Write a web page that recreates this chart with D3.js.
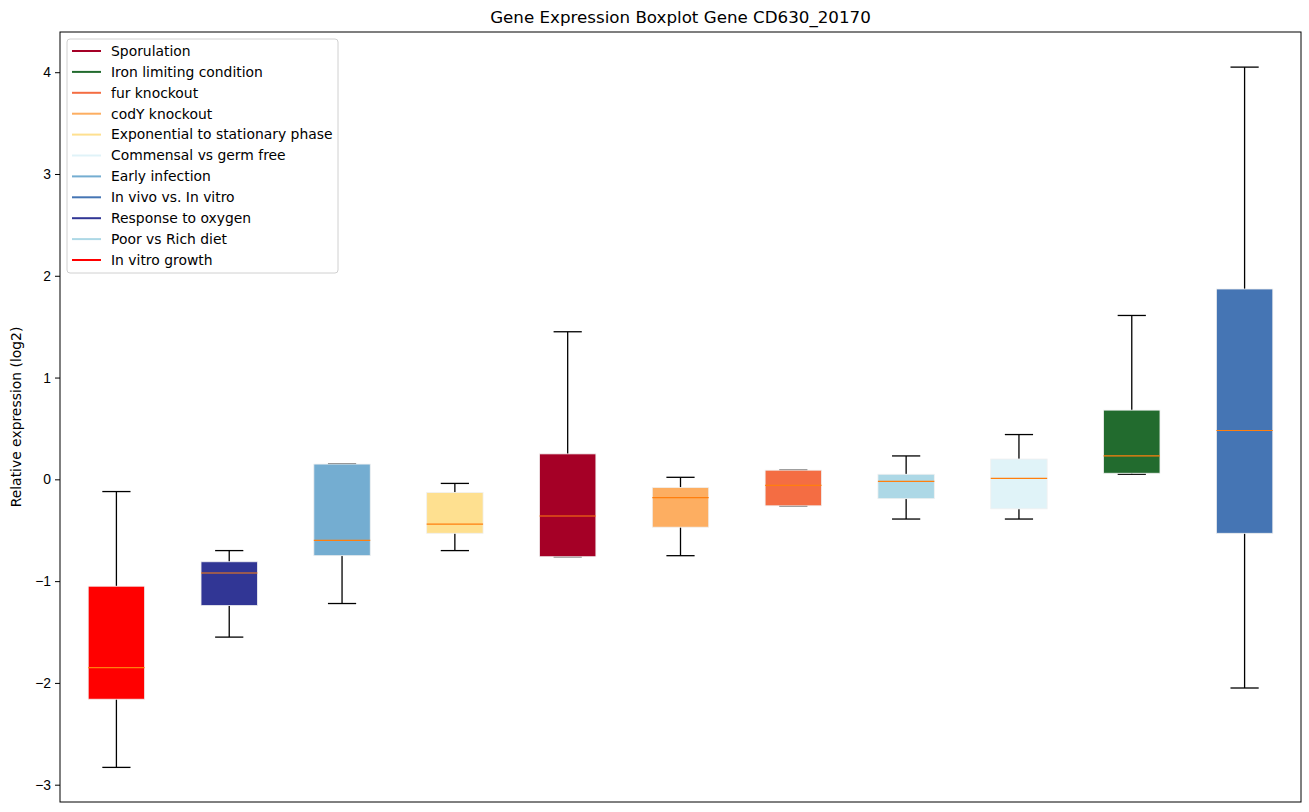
<!DOCTYPE html>
<html>
<head>
<meta charset="utf-8">
<style>
    body { margin: 0; background: #fff; }
    svg { font-family: 'DejaVu Sans', sans-serif; }
    .y .domain { display: none; }
    .y .tick text { font-size: 13.9px; fill: #000; }
    .y .tick line { stroke: #000; }
</style>
</head>
<body>
<svg width="1309" height="812"></svg>
<script src="https://d3js.org/d3.v7.min.js"></script>
<script>
    // boxes, left to right
    const groups = ["In vitro growth", "Response to oxygen", "Early infection", "Exponential to stationary phase",
        "Sporulation", "codY knockout", "fur knockout", "Poor vs Rich diet", "Commensal vs germ free",
        "Iron limiting condition", "In vivo vs. In vitro"]
    const whiskerLow = [-2.83, -1.55, -1.22, -0.70, -0.76, -0.75, -0.26, -0.39, -0.39, 0.05, -2.05]
    const q1 = [-2.16, -1.24, -0.75, -0.53, -0.76, -0.47, -0.26, -0.19, -0.29, 0.06, -0.53]
    const median = [-1.85, -0.92, -0.60, -0.44, -0.36, -0.18, -0.06, -0.02, 0.01, 0.23, 0.48]
    const q3 = [-1.05, -0.81, 0.15, -0.13, 0.25, -0.08, 0.09, 0.05, 0.20, 0.68, 1.87]
    const whiskerHigh = [-0.12, -0.70, 0.15, -0.04, 1.45, 0.02, 0.09, 0.23, 0.44, 1.61, 4.05]

    // legend order and colours
    const legendNames = ["Sporulation", "Iron limiting condition", "fur knockout", "codY knockout",
        "Exponential to stationary phase", "Commensal vs germ free", "Early infection",
        "In vivo vs. In vitro", "Response to oxygen", "Poor vs Rich diet", "In vitro growth"]
    const legendColors = ["#a50026", "#226b2e", "#f46d43", "#fdae61", "#fee090", "#e0f3f8",
        "#74add1", "#4575b4", "#313695", "#add8e6", "#ff0000"]

    const yTicks = [-3, -2, -1, 0, 1, 2, 3, 4]

    const colorOf = {}
    legendNames.forEach(function (n, i) { colorOf[n] = legendColors[i] })

    const data = groups.map(function (g, i) {
        return { name: g, pos: i + 1, lo: whiskerLow[i], q1: q1[i], med: median[i], q3: q3[i], hi: whiskerHigh[i] }
    })

    let margin = { top: 32, right: 8, bottom: 10, left: 60 }
    let width = 1309, height = 812

    let svg = d3.select("svg")

    let x = d3.scaleLinear()
        .domain([0.5, groups.length + 0.5])
        .range([margin.left, width - margin.right])

    let y = d3.scaleLinear()
        .domain([-3.17, 4.395])
        .range([height - margin.bottom, margin.top])

    let boxW = x(1.5) - x(1)   // box is half a slot wide
    let capW = boxW / 2

    // axis
    svg.append("g")
        .attr("class", "y axis")
        .attr("transform", `translate(${margin.left},0)`)
        .call(d3.axisLeft(y).tickValues(yTicks).tickSize(5).tickPadding(4)
            .tickFormat(function (d) { return d < 0 ? "\u2212" + Math.abs(d) : d }))

    let boxes = svg.append("g")
        .selectAll(".box")
        .data(data)
        .join("g")
        .attr("class", "box")

    // whiskers
    boxes.append("line")
        .attr("x1", d => x(d.pos)).attr("x2", d => x(d.pos))
        .attr("y1", d => y(d.q3)).attr("y2", d => y(d.hi))
        .style("stroke", "#000").style("stroke-width", 1.3)
    boxes.append("line")
        .attr("x1", d => x(d.pos)).attr("x2", d => x(d.pos))
        .attr("y1", d => y(d.q1)).attr("y2", d => y(d.lo))
        .style("stroke", "#000").style("stroke-width", 1.3)
    // caps
    boxes.append("line")
        .attr("x1", d => x(d.pos) - capW / 2).attr("x2", d => x(d.pos) + capW / 2)
        .attr("y1", d => y(d.hi)).attr("y2", d => y(d.hi))
        .style("stroke", "#000").style("stroke-width", 1.3)
    boxes.append("line")
        .attr("x1", d => x(d.pos) - capW / 2).attr("x2", d => x(d.pos) + capW / 2)
        .attr("y1", d => y(d.lo)).attr("y2", d => y(d.lo))
        .style("stroke", "#000").style("stroke-width", 1.3)

    // box
    boxes.append("rect")
        .attr("x", d => x(d.pos) - boxW / 2)
        .attr("width", boxW)
        .attr("y", d => y(d.q3))
        .attr("height", d => y(d.q1) - y(d.q3))
        .style("fill", d => colorOf[d.name])
        .style("stroke", "#f0f0f0")
        .style("stroke-width", 0.8)

    // median
    boxes.append("line")
        .attr("x1", d => x(d.pos) - boxW / 2).attr("x2", d => x(d.pos) + boxW / 2)
        .attr("y1", d => y(d.med)).attr("y2", d => y(d.med))
        .style("stroke", "#ff7f0e").style("stroke-width", 1.2)

    // frame
    svg.append("rect")
        .attr("x", margin.left).attr("y", margin.top)
        .attr("width", width - margin.left - margin.right)
        .attr("height", height - margin.top - margin.bottom)
        .style("fill", "none").style("stroke", "#000").style("stroke-width", 1)

    // legend
    let legend = svg.append("g").attr("transform", "translate(67,39)")
    legend.append("rect")
        .attr("width", 271).attr("height", 234).attr("rx", 3)
        .style("fill", "rgba(255,255,255,0.8)").style("stroke", "#d0d0d0")
    let items = legend.selectAll(".item")
        .data(legendNames)
        .join("g")
        .attr("class", "item")
        .attr("transform", (d, i) => `translate(0,${12 + i * 20.9})`)
    items.append("line")
        .attr("x1", 5).attr("x2", 34)
        .style("stroke", (d, i) => legendColors[i]).style("stroke-width", 2)
    items.append("text")
        .attr("x", 44).attr("dy", "0.35em")
        .style("font-size", "13.9px")
        .text(d => d)

    // title and label
    svg.append("text")
        .attr("x", (margin.left + width - margin.right) / 2).attr("y", 23)
        .attr("text-anchor", "middle")
        .style("font-size", "16.7px")
        .text("Gene Expression Boxplot Gene CD630_20170")

    svg.append("text")
        .attr("transform", `translate(21,${(margin.top + height - margin.bottom) / 2}) rotate(-90)`)
        .attr("text-anchor", "middle")
        .style("font-size", "13.9px")
        .text("Relative expression (log2)")
</script>
</body>
</html>
